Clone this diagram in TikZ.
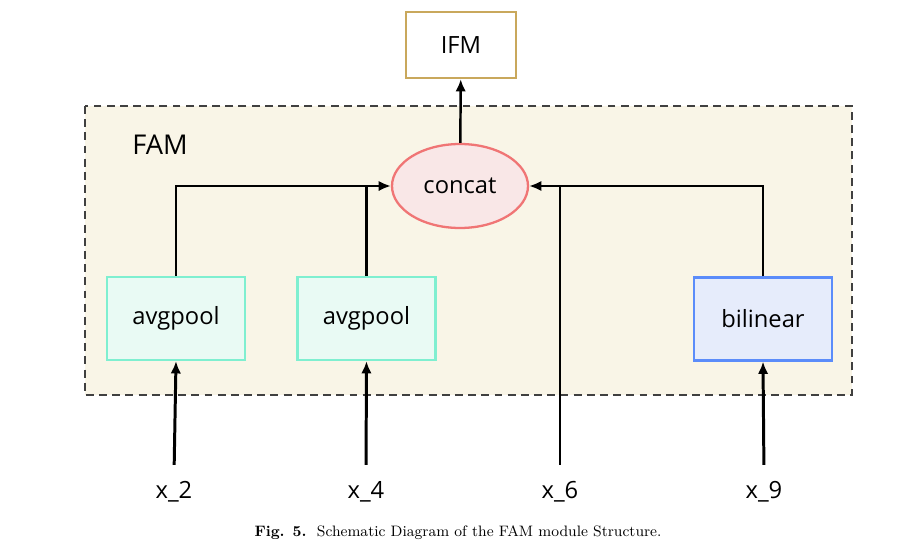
\documentclass[tikz,border=0pt]{standalone}
\usepackage{fontspec}
\setsansfont{Open Sans}
\usetikzlibrary{shapes.geometric,arrows.meta}

\definecolor{famfill}{HTML}{F9F5E7}
\definecolor{ifmline}{HTML}{C9A85C}
\definecolor{catfill}{HTML}{F9E7E7}
\definecolor{catline}{HTML}{F07575}
\definecolor{poolfill}{HTML}{E9FAF4}
\definecolor{poolline}{HTML}{7FEFD0}
\definecolor{bilfill}{HTML}{E6ECFB}
\definecolor{billine}{HTML}{5B8CFA}

\tikzset{
  lbl/.style={font=\sffamily\fontsize{13.5}{16}\selectfont},
  box/.style={lbl, draw, line width=1.3pt, minimum width=2.76cm, minimum height=1.66cm},
  wire/.style={draw, line width=1.4pt, >={Latex[length=7pt,width=6pt]}},
  feed/.style={wire, line width=1.7pt, shorten <=6pt}
}

\begin{document}
\begin{tikzpicture}
\useasboundingbox (0,0) rectangle (18.32,11.1);

\draw[dash pattern=on 4.5pt off 3pt, line width=0.9pt, draw=black!75, fill=famfill] (1.7,8.98) rectangle (17.04,3.2);
\node[lbl, font=\sffamily\fontsize{15.5}{18}\selectfont] (fam) at (3.2,8.2) {FAM};

\node[box, ifmline, text=black, minimum width=2.2cm, minimum height=1.32cm] (ifm) at (9.22,10.2) {IFM};
\node[lbl, draw=catline, fill=catfill, line width=1.3pt, ellipse, minimum width=2.72cm, minimum height=1.68cm] (concat) at (9.2,7.38) {concat};

\node[box, draw=poolline, fill=poolfill] (pool1) at (3.52,4.73) {avgpool};
\node[box, draw=poolline, fill=poolfill] (pool2) at (7.33,4.73) {avgpool};
\node[box, draw=billine, fill=bilfill] (bil) at (15.26,4.72) {bilinear};

\node[lbl] (x2) at (3.48,1.26) {x\_2};
\node[lbl] (x4) at (7.32,1.26) {x\_4};
\node[lbl] (x6) at (11.2,1.26) {x\_6};
\node[lbl] (x9) at (15.28,1.26) {x\_9};

\path[wire,->] (concat) -- (ifm);
\path[wire,->] (pool1.north) |- (concat.west);
\path[wire] (pool2.north) -- (pool2.north |- concat.west);
\path[wire,->] (bil.north) |- (concat.east);
\path[wire,shorten <=6pt] (x6.north) -- (x6.north |- concat.east);

\path[feed,->] (x2.north) -- (pool1.south);
\path[feed,->] (x4.north) -- (pool2.south);
\path[feed,->] (x9.north) -- (bil.south);

\node[font=\fontsize{8.6}{10}\selectfont] (cap) at (9.16,0.44) {\textbf{Fig. 5.}\ \ Schematic Diagram of the FAM module Structure.};
\end{tikzpicture}
\end{document}
